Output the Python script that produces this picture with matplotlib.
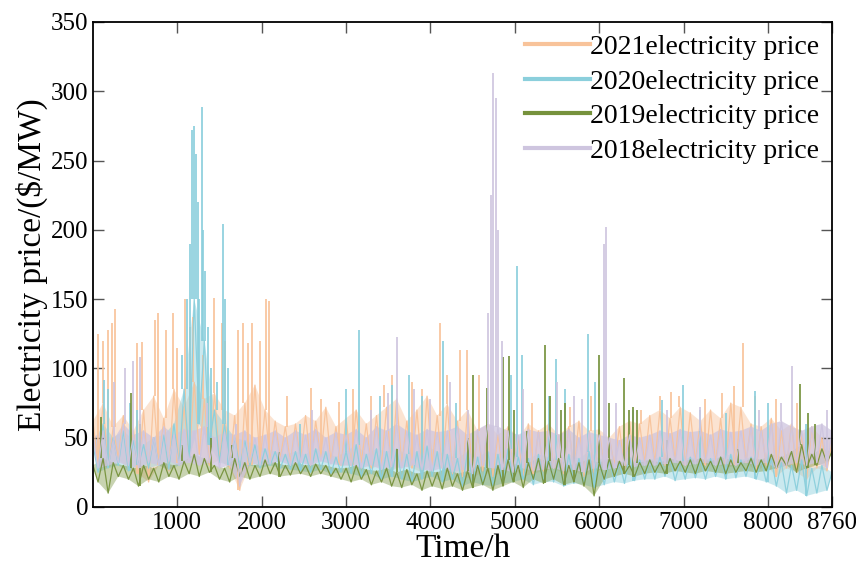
import matplotlib
matplotlib.use('Agg')
import matplotlib.pyplot as plt
import numpy as np

plt.rcParams['font.family'] = ['Liberation Serif', 'DejaVu Serif']
plt.rcParams['mathtext.fontset'] = 'stix'

# hourly price, read as alternating high / low every 60 h (0..8760)
hours = np.arange(0, 8761, 60)

p2021 = [62, 30, 75, 28, 58, 35, 66, 27, 55, 24,
         70, 18, 80, 30, 64, 26, 85, 32, 72, 35,
         90, 38, 78, 30, 82, 34, 70, 28, 66, 12,
         75, 30, 88, 32, 70, 33, 62, 35, 58, 32,
         60, 34, 66, 30, 62, 36, 72, 33, 58, 30,
         64, 30, 70, 32, 60, 28, 66, 30, 72, 26,
         78, 30, 62, 28, 70, 25, 80, 30, 66, 28,
         74, 24, 62, 22, 70, 20, 55, 26, 60, 22,
         52, 25, 58, 28, 50, 22, 60, 24, 55, 26,
         60, 28, 52, 24, 58, 26, 62, 22, 55, 25,
         56, 28, 50, 30, 58, 27, 62, 30, 60, 32,
         66, 32, 70, 30, 64, 34, 72, 30, 68, 33,
         62, 30, 70, 32, 64, 28, 75, 30, 72, 32,
         60, 26, 58, 30, 64, 22, 55, 28, 60, 25,
         52, 20, 58, 28, 50, 26, 48]
p2020 = [45, 25, 60, 28, 50, 30, 55, 26, 48, 30,
         45, 28, 50, 30, 52, 27, 60, 30, 85, 35,
         150, 60, 120, 45, 70, 32, 60, 30, 50, 28,
         48, 30, 45, 28, 42, 30, 40, 28, 38, 27,
         40, 26, 38, 25, 42, 27, 40, 24, 36, 25,
         40, 24, 45, 22, 38, 24, 42, 20, 40, 22,
         42, 20, 38, 18, 40, 20, 44, 22, 40, 18,
         38, 20, 35, 15, 40, 18, 36, 16, 40, 15,
         38, 17, 42, 18, 36, 20, 35, 16, 38, 18,
         36, 18, 34, 15, 38, 17, 35, 16, 40, 14,
         35, 16, 34, 18, 32, 17, 36, 19, 34, 20,
         34, 20, 36, 22, 35, 19, 33, 20, 36, 21,
         34, 20, 35, 22, 36, 20, 38, 21, 34, 22,
         36, 20, 34, 18, 35, 15, 32, 10, 30, 12,
         34, 8, 28, 10, 30, 12, 25]
p2019 = [30, 18, 35, 10, 32, 22, 30, 20, 28, 15,
         30, 20, 28, 18, 32, 22, 30, 20, 33, 24,
         38, 22, 35, 25, 30, 20, 28, 18, 35, 22,
         32, 20, 30, 22, 34, 24, 32, 22, 30, 23,
         32, 24, 30, 22, 31, 24, 30, 22, 28, 20,
         28, 18, 30, 20, 27, 16, 26, 18, 28, 15,
         25, 14, 27, 16, 24, 12, 26, 15, 25, 13,
         28, 15, 24, 12, 26, 14, 30, 16, 28, 12,
         30, 15, 34, 18, 30, 14, 32, 20, 35, 17,
         33, 20, 35, 16, 30, 18, 32, 15, 34, 8,
         32, 20, 35, 22, 33, 24, 30, 22, 32, 24,
         34, 25, 32, 24, 35, 26, 33, 25, 34, 24,
         35, 26, 33, 25, 36, 24, 34, 25, 32, 26,
         35, 25, 34, 26, 38, 28, 36, 30, 40, 25,
         45, 28, 38, 30, 42, 32, 40]
p2018 = [50, 28, 55, 30, 48, 32, 60, 30, 52, 28,
         55, 32, 50, 30, 58, 33, 52, 30, 56, 32,
         55, 30, 58, 32, 50, 28, 54, 30, 52, 15,
         55, 32, 50, 30, 52, 31, 55, 33, 50, 30,
         55, 32, 52, 30, 56, 33, 50, 31, 54, 30,
         52, 30, 56, 28, 50, 30, 58, 27, 55, 29,
         60, 28, 55, 30, 52, 27, 56, 26, 54, 28,
         55, 25, 58, 27, 52, 24, 56, 30, 60, 28,
         58, 27, 55, 25, 52, 28, 56, 26, 54, 27,
         55, 28, 52, 26, 56, 27, 50, 25, 54, 28,
         52, 27, 50, 28, 48, 30, 52, 29, 50, 30,
         52, 30, 55, 31, 53, 32, 56, 30, 54, 31,
         55, 32, 52, 30, 56, 31, 54, 30, 55, 32,
         58, 30, 55, 32, 60, 28, 62, 30, 58, 32,
         55, 30, 58, 32, 60, 28, 55]

# price spikes (hour, peak)
sp2021_h = [60, 114, 180, 220, 260, 520, 580, 730, 770, 870, 950, 1000, 1090, 1150,
            1190, 1300, 1440, 1530, 1560, 1720, 1780, 1840, 1880, 1980, 2050, 2090,
            2300, 2590, 2700, 2920, 3080, 3300, 3450, 3550, 3780, 3900, 4110, 4200,
            4350, 4430, 4580, 5200, 5650, 5900, 6500, 6720, 6850, 6950, 7250, 7450,
            7600, 7700, 7850, 8100, 8350]
sp2021_v = [125, 120, 128, 133, 143, 118, 119, 135, 140, 128, 140, 115, 150, 130,
            137, 110, 151, 133, 120, 128, 133, 118, 133, 120, 150, 149,
            80, 86, 78, 76, 85, 80, 88, 95, 90, 85, 133, 95,
            113, 113, 95, 75, 72, 80, 70, 80, 83, 80, 78, 82,
            87, 118, 80, 78, 75]
sp2020_h = [130, 180, 440, 520, 1050, 1110, 1150, 1175, 1200, 1220, 1240, 1260, 1290,
            1310, 1330, 1360, 1400, 1470, 1540, 1560, 1600, 2450, 3000, 3150, 3400,
            3550, 3750, 3900, 4150, 4300, 4950, 5030, 5080, 5400, 5490, 5600, 5870,
            5950, 6400, 6740, 6990, 7200, 7500, 7850, 8000, 8450]
sp2020_v = [92, 85, 75, 70, 110, 150, 190, 272, 275, 255, 220, 150, 289,
            200, 170, 130, 100, 90, 204, 150, 100, 60, 85, 128, 80,
            88, 95, 80, 120, 75, 95, 174, 110, 80, 107, 85, 125,
            90, 70, 77, 88, 70, 68, 84, 75, 60]
sp2019_h = [100, 450, 560, 1050, 1400, 1650, 2200, 3600, 4450, 4500, 4670, 4860, 4930,
            4990, 5150, 5360, 5420, 5550, 5600, 5700, 6000, 6120, 6300, 6350, 6400,
            6450, 6800, 7650, 8380, 8470, 8560]
sp2019_v = [65, 82, 60, 45, 50, 45, 40, 42, 50, 95, 86, 108, 109,
            70, 55, 117, 80, 70, 75, 60, 110, 75, 93, 70, 72,
            70, 48, 42, 89, 68, 60]
sp2018_h = [250, 380, 470, 560, 1350, 1700, 2600, 3300, 3500, 3600, 3800, 4000, 4230,
            4450, 4680, 4720, 4745, 4780, 4800, 4850, 5100, 5500, 5700, 5800, 6060,
            6085, 6200, 6800, 7200, 7900, 8150, 8290, 8700]
sp2018_v = [90, 100, 105, 108, 75, 60, 70, 70, 82, 123, 85, 78, 90,
            70, 140, 225, 313, 295, 200, 120, 85, 90, 80, 78, 190,
            202, 75, 70, 72, 70, 75, 102, 70]

labels = ['2021electricity price', '2020electricity price',
          '2019electricity price', '2018electricity price']
colors = ['#F8C39A', '#8BCFDC', '#76923C', '#CEC5DF']
band_alpha = [0.45, 0.45, 0.4, 0.75]
series = [(p2021, sp2021_h, sp2021_v), (p2020, sp2020_h, sp2020_v),
          (p2019, sp2019_h, sp2019_v), (p2018, sp2018_h, sp2018_v)]

fig = plt.figure(figsize=(8.56, 5.68), dpi=100)
ax = fig.add_axes([0.1086, 0.1074, 0.8634, 0.8539])

for (vals, sh, sv), c, lab, ba in zip(series, colors, labels, band_alpha):
    vals = np.array(vals)
    # band between the read highs and lows
    px = np.concatenate([hours[0::2], hours[1::2][::-1]])
    py = np.concatenate([vals[0::2], vals[1::2][::-1]])
    ax.fill(px, py, color=c, alpha=ba, lw=0)
    ax.plot(hours, vals, color=c, lw=0.9, alpha=0.95, label=lab)
    base = vals[np.round(np.array(sh) / 60).astype(int)]
    ax.vlines(sh, base, sv, color=c, lw=1.3, alpha=0.95)

ax.set_xlim(0, 8760)
ax.set_ylim(0, 350)
ax.set_xticks([1000, 2000, 3000, 4000, 5000, 6000, 7000, 8000, 8760])
ax.set_xticklabels(['1000', '2000', '3000', '4000', '5000', '6000', '7000', '8000', '8760'])
ax.set_yticks(np.arange(0, 351, 50))
ax.tick_params(direction='in', length=8, width=1, labelsize=18,
               top=True, right=True, color='#555555')
for s in ax.spines.values():
    s.set_linewidth(1.3)
ax.set_xlabel('Time/h', fontsize=24, labelpad=0)
ax.set_ylabel('Electricity price/($/MW)', fontsize=24, labelpad=2)

leg = ax.legend(loc='upper right', frameon=False, fontsize=20, handlelength=2.35,
                handletextpad=0.0, labelspacing=0.33, borderaxespad=0.05)
for l in leg.get_lines():
    l.set_linewidth(3)
    l.set_alpha(1)

fig.savefig('out.png', dpi=100)
